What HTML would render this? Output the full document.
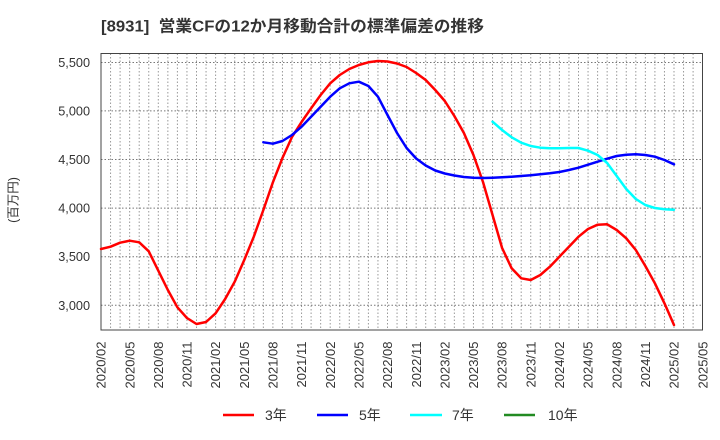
<!DOCTYPE html>
<html><head><meta charset="utf-8"><style>
html,body{margin:0;padding:0;background:#fff;}
svg{display:block;}
text{font-family:"Liberation Sans","Noto Sans CJK JP",sans-serif;fill:#333;}
</style></head><body>
<svg width="720" height="440" viewBox="0 0 720 440" xmlns="http://www.w3.org/2000/svg">
<rect x="0" y="0" width="720" height="440" fill="#fff"/>
<text x="101" y="31.5" font-size="16" font-weight="bold" textLength="383" lengthAdjust="spacingAndGlyphs">[8931]&#160;&#160;営業CFの12か月移動合計の標準偏差の推移</text>

<g stroke="#999" stroke-width="1" stroke-dasharray="1.5,2" fill="none">
<path d="M110.55 53.5V330M120.1 53.5V330M129.65 53.5V330M139.2 53.5V330M148.75 53.5V330M158.3 53.5V330M167.85 53.5V330M177.4 53.5V330M186.95 53.5V330M196.5 53.5V330M206.05 53.5V330M215.6 53.5V330M225.15 53.5V330M234.7 53.5V330M244.25 53.5V330M253.8 53.5V330M263.35 53.5V330M272.9 53.5V330M282.45 53.5V330M292 53.5V330M301.55 53.5V330M311.1 53.5V330M320.65 53.5V330M330.2 53.5V330M339.75 53.5V330M349.3 53.5V330M358.85 53.5V330M368.4 53.5V330M377.95 53.5V330M387.5 53.5V330M397.05 53.5V330M406.6 53.5V330M416.15 53.5V330M425.7 53.5V330M435.25 53.5V330M444.8 53.5V330M454.35 53.5V330M463.9 53.5V330M473.45 53.5V330M483 53.5V330M492.55 53.5V330M502.1 53.5V330M511.65 53.5V330M521.2 53.5V330M530.75 53.5V330M540.3 53.5V330M549.85 53.5V330M559.4 53.5V330M568.95 53.5V330M578.5 53.5V330M588.05 53.5V330M597.6 53.5V330M607.15 53.5V330M616.7 53.5V330M626.25 53.5V330M635.8 53.5V330M645.35 53.5V330M654.9 53.5V330M664.45 53.5V330M674 53.5V330M683.55 53.5V330M693.1 53.5V330"/>
</g>
<g stroke="#777" stroke-width="1" stroke-dasharray="1.5,2" fill="none">
<path d="M101 62.5H702.5M101 110.9H702.5M101 159.5H702.5M101 208.1H702.5M101 256.7H702.5M101 305.3H702.5"/>
</g>
<rect x="101" y="53.5" width="601.5" height="276.5" fill="none" stroke="#444" stroke-width="1"/>

<g font-size="12.7" text-anchor="end">
<text x="90" y="67">5,500</text>
<text x="90" y="115.4">5,000</text>
<text x="90" y="164">4,500</text>
<text x="90" y="212.6">4,000</text>
<text x="90" y="261.2">3,500</text>
<text x="90" y="309.8">3,000</text>
</g>
<text transform="translate(17.5,200) rotate(-90)" font-size="12.5" text-anchor="middle">(百万円)</text>

<g font-size="13" text-anchor="end">
<text transform="translate(105.6,341.5) rotate(-90)">2020/02</text>
<text transform="translate(134.25,341.5) rotate(-90)">2020/05</text>
<text transform="translate(162.9,341.5) rotate(-90)">2020/08</text>
<text transform="translate(191.55,341.5) rotate(-90)">2020/11</text>
<text transform="translate(220.2,341.5) rotate(-90)">2021/02</text>
<text transform="translate(248.85,341.5) rotate(-90)">2021/05</text>
<text transform="translate(277.5,341.5) rotate(-90)">2021/08</text>
<text transform="translate(306.15,341.5) rotate(-90)">2021/11</text>
<text transform="translate(334.8,341.5) rotate(-90)">2022/02</text>
<text transform="translate(363.45,341.5) rotate(-90)">2022/05</text>
<text transform="translate(392.1,341.5) rotate(-90)">2022/08</text>
<text transform="translate(420.75,341.5) rotate(-90)">2022/11</text>
<text transform="translate(449.4,341.5) rotate(-90)">2023/02</text>
<text transform="translate(478.05,341.5) rotate(-90)">2023/05</text>
<text transform="translate(506.7,341.5) rotate(-90)">2023/08</text>
<text transform="translate(535.35,341.5) rotate(-90)">2023/11</text>
<text transform="translate(564,341.5) rotate(-90)">2024/02</text>
<text transform="translate(592.65,341.5) rotate(-90)">2024/05</text>
<text transform="translate(621.3,341.5) rotate(-90)">2024/08</text>
<text transform="translate(649.95,341.5) rotate(-90)">2024/11</text>
<text transform="translate(678.6,341.5) rotate(-90)">2025/02</text>
<text transform="translate(707.25,341.5) rotate(-90)">2025/05</text>
</g>

<g fill="none" stroke-width="2.5" stroke-linejoin="round" stroke-linecap="round">
<polyline stroke="#ff0000" points="101,249 110.55,246.7 120.1,242.7 129.65,240.7 139.2,242.3 148.75,251.3 158.3,270.7 167.85,290 177.4,307.3 186.95,318 196.5,324 206.05,322 215.6,313.3 225.15,299 234.7,281.7 244.25,260 253.8,236.7 263.35,210 272.9,182.3 282.45,158 292,137 301.55,122 311.1,108.3 320.65,95 330.2,83.3 339.75,75 349.3,69 358.85,65 368.4,62.3 377.95,61 387.5,61.5 397.05,63.5 406.6,67 416.15,73 425.7,80 435.25,90 444.8,101 454.35,116 463.9,133 473.45,155 483,182 492.55,215 502.1,248 511.65,268.3 521.2,278.3 530.75,280 540.3,275 549.85,266.7 559.4,256.7 568.95,246.7 578.5,236.7 588.05,229 597.6,224.7 607.15,224.3 616.7,230 626.25,238.3 635.8,250 645.35,266 654.9,283.3 664.45,303.3 674,325"/>
<polyline stroke="#0000ff" points="263.35,142.3 272.9,143.7 282.45,141 292,135 301.55,126.7 311.1,116.7 320.65,106.7 330.2,96.7 339.75,88.3 349.3,83.3 358.85,81.7 368.4,86 377.95,96.7 387.5,115 397.05,133 406.6,148 416.15,158.5 425.7,165.5 435.25,170.5 444.8,173.5 454.35,175.5 463.9,177 473.45,177.8 483,178 492.55,177.7 502.1,177.3 511.65,176.7 521.2,176 530.75,175.3 540.3,174.3 549.85,173.3 559.4,172 568.95,170 578.5,167.7 588.05,164.7 597.6,161.7 607.15,158.7 616.7,156 626.25,154.7 635.8,154.3 645.35,155 654.9,156.7 664.45,160 674,164.3"/>
<polyline stroke="#00ffff" points="492.55,121.7 502.1,130 511.65,137.3 521.2,142.7 530.75,146 540.3,147.7 549.85,148.3 559.4,148.3 568.95,148 578.5,148 588.05,150.7 597.6,155 607.15,163 616.7,176 626.25,189 635.8,199 645.35,205 654.9,208 664.45,209.3 674,209.7"/>
</g>

<g stroke-width="2.5">
<line x1="223" y1="415" x2="254" y2="415" stroke="#ff0000"/>
<line x1="317" y1="415" x2="348" y2="415" stroke="#0000ff"/>
<line x1="410" y1="415" x2="442" y2="415" stroke="#00ffff"/>
<line x1="504" y1="415" x2="535" y2="415" stroke="#228b22"/>
</g>
<g font-size="14">
<text x="265" y="420">3年</text>
<text x="359" y="420">5年</text>
<text x="452" y="420">7年</text>
<text x="548" y="420">10年</text>
</g>
</svg>
</body></html>
